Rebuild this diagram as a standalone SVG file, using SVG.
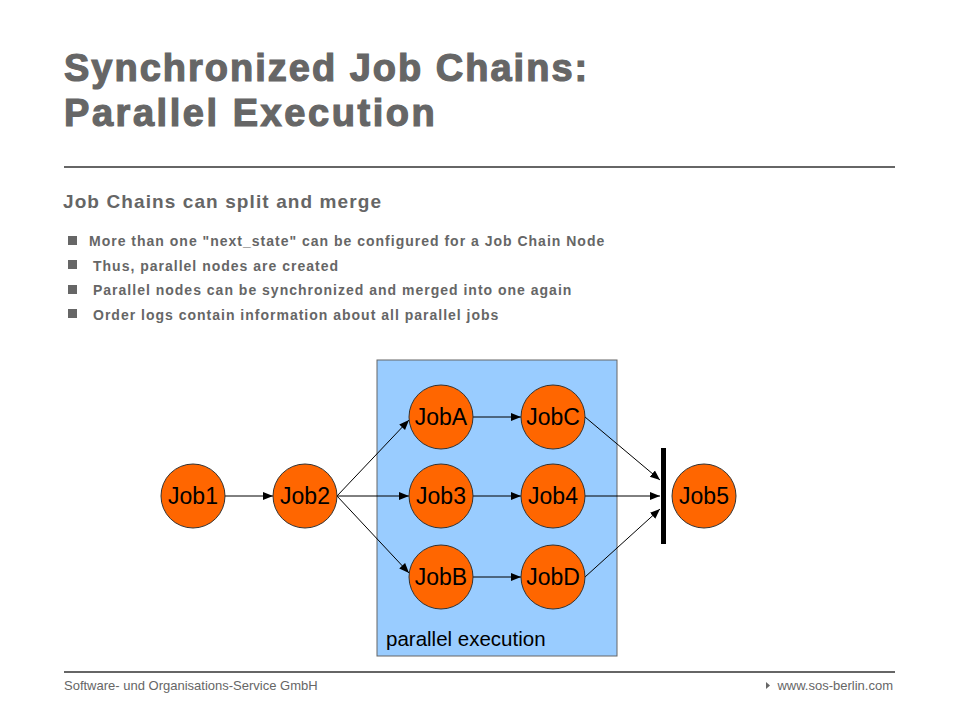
<svg xmlns="http://www.w3.org/2000/svg" width="960" height="720" viewBox="0 0 960 720">
<defs>
<style>
.title{font-family:"Liberation Sans",Arial,sans-serif;font-weight:bold;font-size:38px;fill:#666;stroke:#666;stroke-width:1.2px;letter-spacing:2px}
.sub{font-family:"Liberation Sans",Arial,sans-serif;font-weight:bold;font-size:19px;fill:#666;letter-spacing:1.1px}
.bul{font-family:"Liberation Sans",Arial,sans-serif;font-weight:bold;font-size:14px;fill:#666;letter-spacing:1px}
.foot{font-family:"Liberation Sans",Arial,sans-serif;font-size:13px;fill:#666}
.node circle{fill:#FF6600;stroke:#333;stroke-width:1}
.node text{font-family:"Liberation Sans",Arial,sans-serif;font-size:23px;fill:#000;text-anchor:middle}
.conn line{stroke:#000;stroke-width:1;marker-end:url(#arr)}
</style>
<marker id="arr" viewBox="0 0 10 10" refX="10" refY="5" markerWidth="10" markerHeight="10" markerUnits="userSpaceOnUse" orient="auto">
<path d="M0,1 L10,5 L0,9 z" fill="#000"/>
</marker>
</defs>
<rect width="960" height="720" fill="#fff"/>
<text class="title" x="64" y="81">Synchronized Job Chains:</text>
<text class="title" x="64" y="126" style="letter-spacing:2.55px">Parallel Execution</text>
<line x1="64" y1="167" x2="895" y2="167" stroke="#666" stroke-width="2"/>
<text class="sub" x="63" y="208">Job Chains can split and merge</text>
<g fill="#666">
<rect x="68" y="236" width="9" height="9"/>
<rect x="68" y="260" width="9" height="9"/>
<rect x="68" y="285" width="9" height="9"/>
<rect x="68" y="309" width="9" height="9"/>
</g>
<text class="bul" x="89" y="246">More than one "next_state" can be configured for a Job Chain Node</text>
<text class="bul" x="93" y="271">Thus, parallel nodes are created</text>
<text class="bul" x="93" y="295">Parallel nodes can be synchronized and merged into one again</text>
<text class="bul" x="93" y="320">Order logs contain information about all parallel jobs</text>

<g id="parallel-area">
<rect x="377" y="360" width="240" height="296" fill="#99CCFF" stroke="#666" stroke-width="1"/>
<text x="386" y="646" font-family="Liberation Sans, Arial, sans-serif" font-size="20.5" fill="#000">parallel execution</text>
</g>
<g id="sync-bar"><rect x="661" y="448" width="5" height="96" fill="#000"/></g>

<g id="connectors" class="conn">
<line x1="225" y1="496" x2="273" y2="496"/>
<line x1="337" y1="496" x2="409" y2="420"/>
<line x1="337" y1="496" x2="409" y2="496"/>
<line x1="337" y1="496" x2="409" y2="573"/>
<line x1="473" y1="417" x2="521" y2="417"/>
<line x1="473" y1="496" x2="521" y2="496"/>
<line x1="473" y1="577" x2="521" y2="577"/>
<line x1="585" y1="417" x2="660" y2="480"/>
<line x1="585" y1="496" x2="660" y2="496"/>
<line x1="585" y1="577" x2="660" y2="509"/>
</g>

<g id="job1" class="node"><circle cx="193" cy="496" r="32"/><text x="193" y="504">Job1</text></g>
<g id="job2" class="node"><circle cx="305" cy="496" r="32"/><text x="305" y="504">Job2</text></g>
<g id="jobA" class="node"><circle cx="441" cy="417" r="32"/><text x="441" y="425">JobA</text></g>
<g id="job3" class="node"><circle cx="441" cy="496" r="32"/><text x="441" y="504">Job3</text></g>
<g id="jobB" class="node"><circle cx="441" cy="577" r="32"/><text x="441" y="585">JobB</text></g>
<g id="jobC" class="node"><circle cx="553" cy="417" r="32"/><text x="553" y="425">JobC</text></g>
<g id="job4" class="node"><circle cx="553" cy="496" r="32"/><text x="553" y="504">Job4</text></g>
<g id="jobD" class="node"><circle cx="553" cy="577" r="32"/><text x="553" y="585">JobD</text></g>
<g id="job5" class="node"><circle cx="704" cy="496" r="32"/><text x="704" y="504">Job5</text></g>

<line x1="64" y1="672" x2="895" y2="672" stroke="#666" stroke-width="2"/>
<text class="foot" x="64" y="690">Software- und Organisations-Service GmbH</text>
<path d="M766,682 L770,685.5 L766,689 z" fill="#666"/>
<text class="foot" x="893" y="690" text-anchor="end">www.sos-berlin.com</text>
</svg>
